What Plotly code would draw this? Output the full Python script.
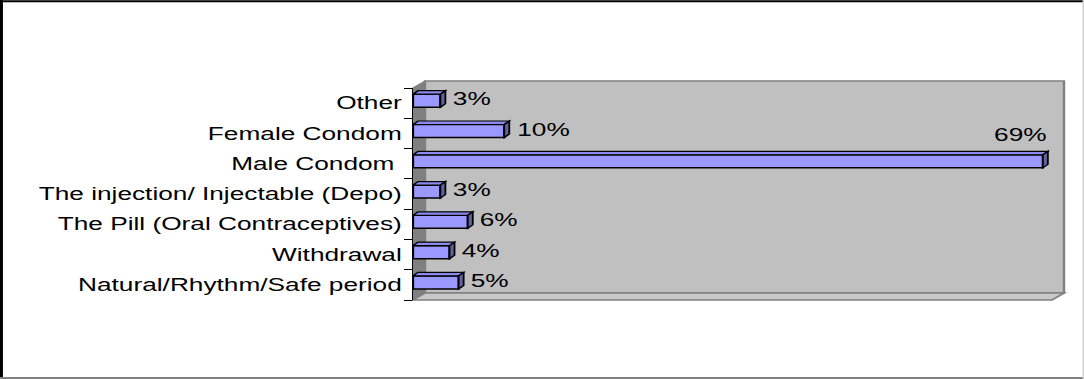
import plotly.graph_objects as go

# Contraceptive methods used (bottom-to-top order on the chart)
categories = [
    "Natural/Rhythm/Safe period",
    "Withdrawal",
    "The Pill (Oral Contraceptives)",
    "The injection/ Injectable (Depo)",
    "Male Condom\u00a0",
    "Female Condom",
    "Other",
]
values = [5, 4, 6, 3, 69, 10, 3]
value_labels = ["5%", "4%", "6%", "3%", "69%", "10%", "3%"]
x_max = 70

# Final page geometry (the figure is laid out narrower, then stretched horizontally)
PAGE_W, PAGE_H = 1084, 379
FIG_W = 723
STRETCH = PAGE_W / FIG_W

# Front plane of the 3-D plot box, in page pixels
FX0, FX1 = 413, 1052
FY0, FY1 = 88, 300
DEPTH_X, DEPTH_Y = 12, 7            # box depth (page px)
BAR_DX, BAR_DY = 5, 3.5             # bar depth (page px)

n = len(categories)
pos = list(range(n))
unit_x = (FX1 - FX0) / x_max        # page px per percent
unit_y = (FY1 - FY0) / n            # page px per category
bar_w = 13 / unit_y
bar_shift = 0.08
bar_off = -bar_w / 2 + bar_shift

FONT = "Liberation Sans, Arial, sans-serif"
FS = 17.5


def px(x):
    return x / PAGE_W


def py(y):
    return 1 - y / PAGE_H


fig = go.Figure()
fig.add_trace(go.Bar(
    y=pos, x=values, orientation="h",
    width=bar_w, offset=bar_off,
    marker=dict(color="#9999FF", line=dict(color="#000000", width=1.5)),
    hoverinfo="skip", showlegend=False,
))

shapes = []
# back wall, side wall and floor of the 3-D box
shapes.append(dict(type="path", xref="paper", yref="paper", layer="below",
                   path=f"M{px(FX0+DEPTH_X)},{py(FY0-DEPTH_Y)} L{px(FX1+DEPTH_X)},{py(FY0-DEPTH_Y)} "
                        f"L{px(FX1+DEPTH_X)},{py(FY1-DEPTH_Y)} L{px(FX0+DEPTH_X)},{py(FY1-DEPTH_Y)} Z",
                   fillcolor="#C0C0C0", line=dict(color="#808080", width=1.6)))
shapes.append(dict(type="path", xref="paper", yref="paper", layer="below",
                   path=f"M{px(FX0)},{py(FY0)} L{px(FX0+DEPTH_X)},{py(FY0-DEPTH_Y)} "
                        f"L{px(FX0+DEPTH_X)},{py(FY1-DEPTH_Y)} L{px(FX0)},{py(FY1)} Z",
                   fillcolor="#808080", line=dict(color="#808080", width=1)))
shapes.append(dict(type="path", xref="paper", yref="paper", layer="below",
                   path=f"M{px(FX0)},{py(FY1)} L{px(FX0+DEPTH_X)},{py(FY1-DEPTH_Y)} "
                        f"L{px(FX1+DEPTH_X)},{py(FY1-DEPTH_Y)} L{px(FX1)},{py(FY1)} Z",
                   fillcolor="#C8C8C8", line=dict(color="#808080", width=1.6)))

# top and side faces of each bar
ddx = BAR_DX / unit_x
ddy = BAR_DY / unit_y
for p, v in zip(pos, values):
    yb = p + bar_off
    yt = yb + bar_w
    shapes.append(dict(type="path", xref="x", yref="y", layer="above",
                       path=f"M0,{yt} L{v},{yt} L{v+ddx},{yt+ddy} L{ddx},{yt+ddy} Z",
                       fillcolor="#8A8AEE", line=dict(color="#000000", width=1.2)))
    shapes.append(dict(type="path", xref="x", yref="y", layer="above",
                       path=f"M{v},{yb} L{v},{yt} L{v+ddx},{yt+ddy} L{v+ddx},{yb+ddy} Z",
                       fillcolor="#62629E", line=dict(color="#000000", width=1.2)))

# chart frame
shapes.append(dict(type="line", xref="paper", yref="paper", x0=0.0012, x1=0.0012, y0=0, y1=1,
                   line=dict(color="#000000", width=2.2)))
shapes.append(dict(type="line", xref="paper", yref="paper", x0=0, x1=1, y0=py(1.2), y1=py(1.2),
                   line=dict(color="#000000", width=2)))
shapes.append(dict(type="line", xref="paper", yref="paper", x0=0, x1=1, y0=py(378), y1=py(378),
                   line=dict(color="#808080", width=2)))
shapes.append(dict(type="line", xref="paper", yref="paper", x0=px(1083.3), x1=px(1083.3), y0=0, y1=1,
                   line=dict(color="#D0D0D0", width=1)))

# value labels
annotations = []
for p, v, lab in zip(pos, values, value_labels):
    yc = p + bar_shift
    if v / x_max > 0.9:
        annotations.append(dict(x=v, y=yc, xref="x", yref="y", text=lab, showarrow=False,
                                xanchor="right", yanchor="middle", xshift=4.7, yshift=26.5,
                                font=dict(family=FONT, size=FS, color="#000000")))
    else:
        annotations.append(dict(x=v, y=yc, xref="x", yref="y", text=lab, showarrow=False,
                                xanchor="left", yanchor="middle", xshift=6.5, yshift=1.5,
                                font=dict(family=FONT, size=FS, color="#000000")))

fig.update_layout(
    width=FIG_W, height=PAGE_H,
    margin=dict(l=0, r=0, t=0, b=0),
    paper_bgcolor="#FFFFFF", plot_bgcolor="rgba(0,0,0,0)",
    shapes=shapes, annotations=annotations,
    showlegend=False,
    xaxis=dict(domain=[px(FX0), px(FX1)], range=[0, x_max], visible=False, fixedrange=True),
    yaxis=dict(
        domain=[py(FY1), py(FY0)], range=[-0.5, n - 0.5],
        tickmode="array", tickvals=pos, ticktext=categories,
        ticks="outside", ticklen=4.5 / STRETCH, tickcolor="rgba(0,0,0,0)",
        minor=dict(tickmode="array", tickvals=[p - 0.5 for p in pos] + [n - 0.5],
                   ticks="outside", ticklen=8 / STRETCH, tickcolor="#000000", tickwidth=1),
        showline=True, linecolor="#000000", linewidth=1,
        showgrid=False, zeroline=False, fixedrange=True,
        tickfont=dict(family=FONT, size=FS, color="#000000"),
    ),
)

stretch_js = (
    "document.body.style.margin='0';"
    "var d=document.getElementById('{plot_id}');"
    "d.style.transformOrigin='0 0';"
    f"d.style.transform='scaleX({STRETCH:.5f})';"
)
fig.write_html("out.html", post_script=stretch_js, config={"displayModeBar": False})
